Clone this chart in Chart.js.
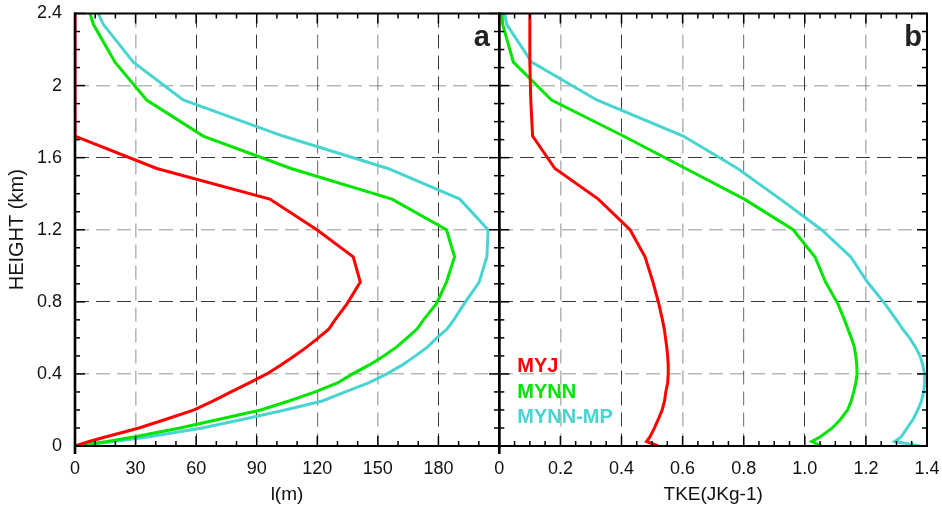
<!DOCTYPE html>
<html lang="en">
<head>
<meta charset="UTF-8">
<title>Mixing length and TKE profiles</title>
<script src="https://cdn.jsdelivr.net/npm/chart.js"></script>
<style>
    body { margin: 0; background: #fff; }
    .wrap { position: relative; width: 942px; height: 510px; }
    .wrap canvas { position: absolute; left: 0; top: 0; }
</style>
</head>
<body>
<div class="wrap">
    <canvas id="panelA" width="942" height="510"></canvas>
    <canvas id="panelB" width="942" height="510"></canvas>
</div>

<script>
    // model levels (km), shared by all profiles; the top one sits above the plot and gets clipped
    const heights = [0, 0.025, 0.05, 0.1, 0.15, 0.2, 0.25, 0.3, 0.35, 0.4, 0.45, 0.5, 0.55, 0.6, 0.65, 0.7,
                     0.79, 0.91, 1.05, 1.2, 1.37, 1.54, 1.72, 1.92, 2.13, 2.34, 2.56];

    // panel a: mixing length l (m)
    const lMYJ    = [0, 7, 15, 31.7, 45.5, 59, 68.5, 77.3, 86.3, 95, 102, 108.6, 114.9, 120.5, 125.8, 128.8,
                     134.8, 141.3, 137.8, 119.8, 96.5, 40.5, 0, 0, 0, 0, 0];
    const lMYNN   = [0, 16, 29, 52, 72, 92, 106, 119, 130, 137.5, 145.8, 152.9, 159.4, 164.5, 169.5, 172.6,
                     179, 184, 188, 184, 157, 107, 63.5, 35.5, 19.8, 9.1, 3];
    const lMYNNMP = [0, 19, 36, 63, 84, 104, 122.5, 133.9, 145.4, 154.5, 162.2, 168.6, 174.7, 179.2, 184.3, 187.6,
                     192.8, 200.2, 204, 204.6, 190.6, 155, 103, 53.6, 28.9, 14, 5];

    // panel b: TKE (J/kg)
    const tkeMYJ    = [0.52, 0.482, 0.493, 0.508, 0.521, 0.533, 0.541, 0.545, 0.551, 0.553, 0.553, 0.551, 0.548, 0.544, 0.54, 0.534,
                       0.522, 0.503, 0.477, 0.428, 0.324, 0.182, 0.109, 0.103, 0.1, 0.1, 0.1];
    const tkeMYNN   = [1.055, 1.023, 1.05, 1.09, 1.118, 1.14, 1.152, 1.16, 1.167, 1.171, 1.17, 1.167, 1.162, 1.152, 1.141, 1.13,
                       1.108, 1.068, 1.033, 0.962, 0.802, 0.61, 0.406, 0.171, 0.046, 0.011, 0.003];
    const tkeMYNNMP = [1.377, 1.295, 1.315, 1.335, 1.355, 1.37, 1.382, 1.389, 1.393, 1.392, 1.386, 1.377, 1.362, 1.343, 1.32, 1.3,
                       1.262, 1.205, 1.15, 1.055, 0.92, 0.78, 0.602, 0.319, 0.106, 0.024, 0];

    const models = ['MYJ', 'MYNN', 'MYNN-MP'];

    // axis ticks
    const heightTicks = [0, 0.4, 0.8, 1.2, 1.6, 2.0, 2.4];
    const heightLabels = ['0', '0.4', '0.8', '1.2', '1.6', '2', '2.4'];
    const lTicks = [0, 30, 60, 90, 120, 150, 180, 210];
    const lLabels = ['0', '30', '60', '90', '120', '150', '180', ''];
    const tkeTicks = [0, 0.2, 0.4, 0.6, 0.8, 1.0, 1.2, 1.4];
    const tkeLabels = ['0', '0.2', '0.4', '0.6', '0.8', '1.0', '1.2', '1.4'];

    // ---- styling ----
    Chart.defaults.font.family = '"Liberation Sans", Arial, Helvetica, sans-serif';
    Chart.defaults.color = '#111';

    const colors = ['#ff0000', '#00e400', '#48d4d0'];
    const tone = {
        none:  { c: 'rgba(0,0,0,0)', w: 1 },
        light: { c: 'rgba(0,0,0,0.28)', w: 1.6 },
        mid:   { c: 'rgba(0,0,0,0.5)', w: 1.2 },
        dark:  { c: 'rgba(0,0,0,0.78)', w: 1 }
    };
    // the grid in the source picture is not uniform in shade, mimic it per line
    const yTones  = ['none', 'light', 'dark', 'light', 'dark', 'light', 'none'];
    const xTonesA = ['none', 'light', 'dark', 'dark', 'mid', 'light', 'dark', 'none'];
    const xTonesB = ['none', 'light', 'dark', 'light', 'mid', 'dark', 'light', 'none'];

    function profile(values) {
        return values.map((v, i) => ({ x: v, y: heights[i] }));
    }

    function datasets(series) {
        return series.map((vals, i) => ({
            label: models[i],
            data: profile(vals),
            borderColor: colors[i],
            backgroundColor: colors[i],
            borderWidth: 3,
            pointRadius: 0,
            showLine: true,
            tension: 0,
            clip: 0
        }));
    }

    function fixedTicks(values) {
        return scale => { scale.ticks = values.map(v => ({ value: v })); };
    }

    // force exact plot-area edges: no extra room for overhanging labels
    function fitX(scale) {
        scale.height = 64;
        scale.paddingLeft = 0;
        scale.paddingRight = 0;
    }
    function fitY(width) {
        return scale => {
            scale.width = width;
            scale.paddingTop = 0;
            scale.paddingBottom = 0;
        };
    }

    function grid(tones) {
        return {
            drawTicks: false,
            color: ctx => tone[tones[ctx.index] || 'none'].c,
            lineWidth: ctx => tone[tones[ctx.index] || 'none'].w
        };
    }

    // frame, inward tick marks, panel letter and the in-plot legend
    const framePlugin = {
        id: 'frame',
        afterDatasetsDraw(chart, args, opts) {
            const { ctx, chartArea: a, scales: { x, y } } = chart;
            const line = (x1, y1, x2, y2) => {
                ctx.beginPath(); ctx.moveTo(x1, y1); ctx.lineTo(x2, y2); ctx.stroke();
            };
            ctx.save();
            ctx.strokeStyle = '#000';
            ctx.lineWidth = 1.5;

            const nx = Math.round((x.max - x.min) / opts.xMinor);
            for (let i = 0; i <= nx; i++) {
                const px = x.getPixelForValue(x.min + i * opts.xMinor);
                const len = i % opts.xEvery === 0 ? 10 : 5;
                line(px, a.bottom, px, a.bottom - len);
                line(px, a.top, px, a.top + len);
            }
            const ny = Math.round((y.max - y.min) / opts.yMinor);
            for (let i = 0; i <= ny; i++) {
                const py = y.getPixelForValue(y.min + i * opts.yMinor);
                const len = i % opts.yEvery === 0 ? 10 : 5;
                line(a.left, py, a.left + len, py);
                line(a.right, py, a.right - len, py);
            }

            ctx.lineWidth = 2;
            ctx.strokeRect(a.left, a.top, a.right - a.left, a.bottom - a.top);
            ctx.lineWidth = 2.6;
            line(a.left, a.top - 1, a.left, a.bottom + 8);

            ctx.fillStyle = '#222';
            ctx.font = 'bold 29px "Liberation Sans", Arial, sans-serif';
            ctx.textAlign = 'right';
            ctx.textBaseline = 'alphabetic';
            ctx.fillText(opts.letter, a.right - opts.letterInset, a.top + 32);

            if (opts.legend) {
                ctx.font = 'bold 20px "Liberation Sans", Arial, sans-serif';
                ctx.textAlign = 'left';
                chart.data.datasets.forEach((ds, i) => {
                    ctx.fillStyle = ds.borderColor;
                    ctx.fillText(ds.label, a.left + 18, 372 + i * 25.5);
                });
            }
            ctx.restore();
        }
    };

    new Chart(document.getElementById('panelA'), {
        type: 'scatter',
        data: { datasets: datasets([lMYJ, lMYNN, lMYNNMP]) },
        options: {
            responsive: false,
            animation: false,
            layout: { padding: { left: 0, right: 443, top: 13.5, bottom: 0 } },
            plugins: {
                legend: { display: false },
                tooltip: { enabled: false },
                frame: { letter: 'a', letterInset: 9, xMinor: 10, xEvery: 3, yMinor: 0.1, yEvery: 4 }
            },
            scales: {
                x: {
                    type: 'linear', min: 0, max: 210,
                    afterBuildTicks: fixedTicks(lTicks),
                    afterFit: fitX,
                    grid: grid(xTonesA),
                    border: { display: false, dash: [14, 7] },
                    ticks: { padding: 12, font: { size: 18 }, maxRotation: 0, callback: (v, i) => lLabels[i] },
                    title: { display: true, text: 'l(m)', font: { size: 19 }, padding: { bottom: 4 } }
                },
                y: {
                    type: 'linear', min: 0, max: 2.4,
                    afterBuildTicks: fixedTicks(heightTicks),
                    afterFit: fitY(75),
                    grid: grid(yTones),
                    border: { display: false, dash: [14, 7] },
                    ticks: { padding: 13, font: { size: 18 }, callback: (v, i) => heightLabels[i] },
                    title: { display: true, text: 'HEIGHT (km)', font: { size: 20 }, padding: { top: 5 } }
                }
            }
        },
        plugins: [framePlugin]
    });

    new Chart(document.getElementById('panelB'), {
        type: 'scatter',
        data: { datasets: datasets([tkeMYJ, tkeMYNN, tkeMYNNMP]) },
        options: {
            responsive: false,
            animation: false,
            layout: { padding: { left: 499.3, right: 15, top: 13.5, bottom: 0 } },
            plugins: {
                legend: { display: false },
                tooltip: { enabled: false },
                frame: { letter: 'b', letterInset: 5, xMinor: 0.05, xEvery: 4, yMinor: 0.1, yEvery: 4, legend: true }
            },
            scales: {
                x: {
                    type: 'linear', min: 0, max: 1.4,
                    afterBuildTicks: fixedTicks(tkeTicks),
                    afterFit: fitX,
                    grid: grid(xTonesB),
                    border: { display: false, dash: [14, 7] },
                    ticks: { padding: 12, font: { size: 18 }, maxRotation: 0, callback: (v, i) => tkeLabels[i] },
                    title: { display: true, text: 'TKE(JKg-1)', font: { size: 19 }, padding: { bottom: 4 } }
                },
                y: {
                    type: 'linear', min: 0, max: 2.4,
                    afterBuildTicks: fixedTicks(heightTicks),
                    afterFit: fitY(0),
                    grid: grid(yTones),
                    border: { display: false, dash: [14, 7] },
                    ticks: { display: false }
                }
            }
        },
        plugins: [framePlugin]
    });
</script>
</body>
</html>
